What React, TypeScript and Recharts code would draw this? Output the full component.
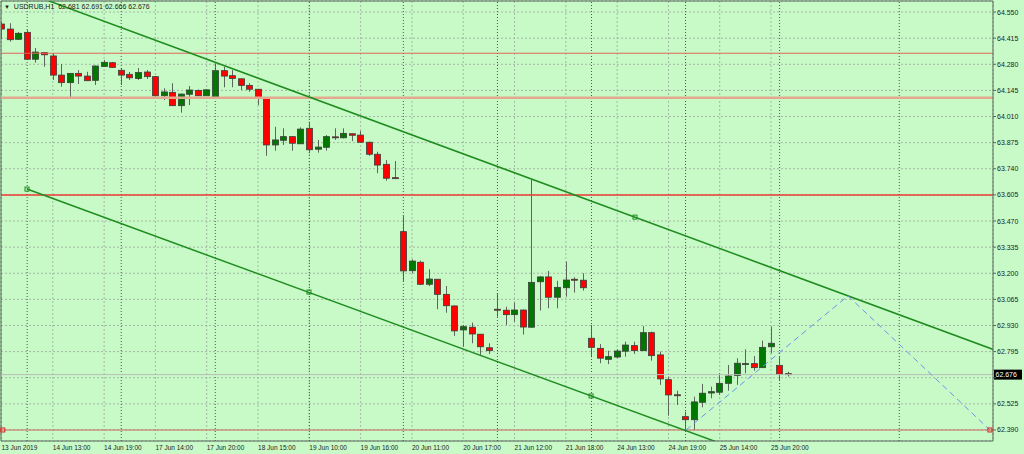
import React from "react";
import {
  ComposedChart,
  Bar,
  XAxis,
  YAxis,
  CartesianGrid,
  ReferenceLine,
  ReferenceDot,
} from "recharts";

// USDRUB H1 candles, oldest first
const openPrices = [
  64.488, 64.462, 64.409, 64.445, 64.306, 64.34, 64.323, 64.224, 64.185, 64.233,
  64.219, 64.197, 64.269, 64.288, 64.249, 64.228, 64.206, 64.24, 64.216, 64.117,
  64.135, 64.066, 64.125, 64.145, 64.117, 64.106, 64.247, 64.221, 64.205, 64.171,
  64.151, 64.107, 63.863, 63.887, 63.906, 63.869, 63.949, 63.841, 63.851, 63.905,
  63.9, 63.921, 63.914, 63.877, 63.815, 63.763, 63.694, 63.415, 63.213, 63.257,
  63.143, 63.169, 63.091, 63.031, 62.907, 62.921, 62.885, 62.815, 63.014, 63.009,
  62.986, 63.01, 62.921, 63.156, 63.181, 63.076, 63.125, 63.169, 63.164, 62.864,
  62.812, 62.755, 62.767, 62.797, 62.826, 62.8, 62.893, 62.778, 62.65, 62.572,
  62.459, 62.443, 62.533, 62.581, 62.585, 62.631, 62.671, 62.731, 62.733, 62.712,
  62.82, 62.724, 62.681,
];
const highPrices = [
  64.498, 64.492, 64.447, 64.457, 64.364, 64.343, 64.338, 64.281, 64.235, 64.25,
  64.241, 64.274, 64.302, 64.292, 64.261, 64.24, 64.261, 64.25, 64.219, 64.156,
  64.182, 64.129, 64.168, 64.15, 64.152, 64.285, 64.267, 64.25, 64.206, 64.182,
  64.152, 64.111, 63.957, 63.949, 63.907, 63.954, 63.98, 63.889, 63.914, 63.949,
  63.949, 63.922, 63.935, 63.88, 63.828, 63.785, 63.78, 63.496, 63.272, 63.265,
  63.22, 63.17, 63.134, 63.033, 62.933, 62.945, 62.886, 62.838, 63.096, 63.027,
  63.048, 63.013, 63.682, 63.186, 63.212, 63.161, 63.26, 63.179, 63.2, 62.933,
  62.834, 62.8, 62.807, 62.846, 62.846, 62.927, 62.898, 62.795, 62.666, 62.593,
  62.485, 62.562, 62.628, 62.614, 62.683, 62.726, 62.761, 62.807, 62.772, 62.852,
  62.924, 62.769, 62.691,
];
const lowPrices = [
  64.41, 64.397, 64.405, 64.302, 64.288, 64.267, 64.199, 64.164, 64.107, 64.178,
  64.193, 64.173, 64.267, 64.261, 64.173, 64.199, 64.199, 64.204, 64.113, 64.095,
  64.064, 64.03, 64.069, 64.116, 64.116, 64.106, 64.161, 64.161, 64.147, 64.138,
  64.069, 63.807, 63.833, 63.863, 63.833, 63.868, 63.823, 63.823, 63.834, 63.889,
  63.897, 63.883, 63.876, 63.807, 63.717, 63.678, 63.69, 63.16, 63.2, 63.139,
  63.134, 63.014, 62.996, 62.876, 62.82, 62.838, 62.778, 62.783, 62.975, 62.933,
  62.95, 62.883, 62.92, 63.007, 63.019, 63.019, 63.079, 63.1, 63.11, 62.766,
  62.735, 62.73, 62.761, 62.769, 62.783, 62.798, 62.748, 62.623, 62.464, 62.519,
  62.381, 62.39, 62.507, 62.554, 62.571, 62.593, 62.623, 62.683, 62.696, 62.71,
  62.786, 62.648, 62.666,
];
const closePrices = [
  64.462, 64.407, 64.44, 64.306, 64.343, 64.329, 64.224, 64.185, 64.233, 64.219,
  64.195, 64.271, 64.29, 64.264, 64.224, 64.21, 64.237, 64.216, 64.117, 64.137,
  64.066, 64.126, 64.147, 64.117, 64.148, 64.247, 64.219, 64.207, 64.171, 64.151,
  64.103, 63.863, 63.889, 63.906, 63.872, 63.945, 63.838, 63.852, 63.906, 63.903,
  63.923, 63.913, 63.877, 63.815, 63.759, 63.691, 63.692, 63.212, 63.263, 63.143,
  63.17, 63.091, 63.032, 62.902, 62.924, 62.886, 62.82, 62.8, 63.009, 62.986,
  63.01, 62.922, 63.153, 63.181, 63.076, 63.127, 63.165, 63.168, 63.125, 62.817,
  62.761, 62.769, 62.798, 62.829, 62.8, 62.893, 62.774, 62.654, 62.571, 62.571,
  62.443, 62.535, 62.58, 62.588, 62.631, 62.669, 62.735, 62.733, 62.712, 62.817,
  62.838, 62.678, 62.676,
];

const priceTicks = [
  64.55, 64.415, 64.28, 64.145, 64.01, 63.875, 63.74, 63.605, 63.47, 63.335,
  63.2, 63.065, 62.93, 62.795, 62.66, 62.525, 62.39,
];
const timeTicks = [0, 6, 12, 18, 24, 30, 36, 42, 48, 54, 60, 66, 72, 78, 84, 90];
const timeLabels = [
  "13 Jun 2019", "14 Jun 13:00", "14 Jun 19:00", "17 Jun 14:00", "17 Jun 20:00",
  "18 Jun 15:00", "19 Jun 10:00", "19 Jun 16:00", "20 Jun 11:00", "20 Jun 17:00",
  "21 Jun 12:00", "21 Jun 18:00", "24 Jun 13:00", "24 Jun 19:00", "25 Jun 14:00",
  "25 Jun 20:00",
];

// drawn objects
const separatorBars = [3, 14, 25, 36, 47, 58, 69, 80, 91, 105];
const thinRedLevel = 64.337;
const tanLevel = 64.107;
const redLevel = 63.605;
const bottomLevel = 62.39;
const bidPrice = 62.676;
const upperChannel = [
  [3, 64.649],
  [116, 62.806],
];
const lowerChannel = [
  [2.98, 63.635],
  [90, 62.225],
];
const channelAnchors = [
  [2.98, 63.635],
  [35.96, 63.103],
  [68.95, 62.566],
  [74.09, 63.49],
];
const bottomAnchors = [
  [0.15, 62.39],
  [115.6, 62.39],
];
const blueZigzag = [
  [80.06, 62.39],
  [99, 63.083],
  [115.6, 62.39],
];

const data = openPrices.map((o, i) => ({
  i,
  open: o,
  high: highPrices[i],
  low: lowPrices[i],
  close: closePrices[i],
  range: [lowPrices[i], highPrices[i]],
}));

const BG = "#c8fac8";
const FRAME = "#56675a";
const FONT = "'Liberation Sans', Arial, sans-serif";

const Candle = (props: any) => {
  const { x, y, width, height, payload } = props;
  if (!payload) return null;
  const { open, close, high, low } = payload;
  const top = Math.min(y, y + height);
  const h = Math.abs(height);
  const px = (v: number) => top + ((high - v) / (high - low)) * h;
  const cx = Math.round(x + width / 2) + 0.5;
  const up = close >= open;
  const bTop = px(Math.max(open, close));
  const bBot = px(Math.min(open, close));
  return (
    <g>
      <line x1={cx} x2={cx} y1={px(high)} y2={px(low)} stroke="#5c665c" strokeWidth={1} />
      <rect
        x={cx - 3}
        y={bTop}
        width={6}
        height={Math.max(bBot - bTop, 1)}
        fill={up ? "#007800" : "#ff0000"}
        stroke="#3a3f3a"
        strokeWidth={0.8}
      />
    </g>
  );
};

const TimeTick = (props: any) => {
  const { x, y, payload } = props;
  const idx = timeTicks.indexOf(payload.value);
  return (
    <text x={x} y={y + 9} fontSize={6.5} fontFamily={FONT} fill="#1c1c1c" textAnchor="start">
      {timeLabels[idx]}
    </text>
  );
};

// the price tag at the bid sits on top of the nearest tick label
const PriceTick = (props: any) => {
  const { x, y, payload } = props;
  if (Math.abs(payload.value - bidPrice) < 0.03) return null;
  return (
    <text x={x} y={y + 2.5} fontSize={7} fontFamily={FONT} fill="#1c1c1c" textAnchor="start">
      {Number(payload.value).toFixed(3)}
    </text>
  );
};

const BidTag = (props: any) => {
  const vb = props.viewBox || {};
  const x0 = vb.x + vb.width + 1;
  return (
    <g>
      <rect x={x0} y={vb.y - 5} width={28} height={10} fill="#000" />
      <text x={x0 + 1.5} y={vb.y + 2.5} fontSize={7} fontFamily={FONT} fill="#fff">
        {bidPrice.toFixed(3)}
      </text>
    </g>
  );
};

const square = (color: string) => (p: any) =>
  <rect x={p.cx - 2} y={p.cy - 2} width={4} height={4} fill="none" stroke={color} strokeWidth={1} />;

const App: React.FC = () => {
  return (
    <div style={{ position: "absolute", left: 0, top: 0, width: 1024, height: 454, background: BG }}>
      <ComposedChart
        width={1024}
        height={454}
        data={data}
        margin={{ top: 1, right: 0, bottom: 0, left: 1 }}
      >
        <CartesianGrid stroke="#a4b8a4" strokeDasharray="2 2" />
        <XAxis
          type="number"
          dataKey="i"
          domain={[-0.06, 115.96]}
          allowDataOverflow
          ticks={timeTicks}
          interval={0}
          tick={<TimeTick />}
          tickLine={false}
          tickSize={0}
          tickMargin={0}
          height={13}
          axisLine={{ stroke: FRAME }}
        />
        <YAxis
          orientation="right"
          domain={[62.333, 64.607]}
          allowDataOverflow
          ticks={priceTicks}
          interval={0}
          width={31}
          tickSize={3}
          tickMargin={1}
          tick={<PriceTick />}
          tickLine={{ stroke: FRAME }}
          axisLine={{ stroke: FRAME }}
        />
        {separatorBars.map((b) => (
          <ReferenceLine key={b} x={b} stroke="#4e564e" strokeDasharray="1 2" />
        ))}
        <ReferenceLine y={64.607} stroke={FRAME} />
        <ReferenceLine x={-0.06} stroke={FRAME} />
        <ReferenceLine y={bidPrice} stroke="#b9bdb9" label={<BidTag />} />
        <Bar dataKey="range" barSize={6} isAnimationActive={false} shape={(p: any) => <Candle {...p} />} />
        <ReferenceLine y={thinRedLevel} stroke="#e0675c" strokeWidth={1} />
        <ReferenceLine y={tanLevel} stroke="#e3a98e" strokeWidth={2.5} />
        <ReferenceLine y={redLevel} stroke="#ee3b35" strokeWidth={1.5} />
        <ReferenceLine y={bottomLevel} stroke="#d0695e" strokeWidth={1} />
        <ReferenceLine
          segment={[
            { x: upperChannel[0][0], y: upperChannel[0][1] },
            { x: upperChannel[1][0], y: upperChannel[1][1] },
          ]}
          stroke="#1f8c1f"
          strokeWidth={1.5}
          ifOverflow="hidden"
        />
        <ReferenceLine
          segment={[
            { x: lowerChannel[0][0], y: lowerChannel[0][1] },
            { x: lowerChannel[1][0], y: lowerChannel[1][1] },
          ]}
          stroke="#1f8c1f"
          strokeWidth={1.5}
          ifOverflow="hidden"
        />
        {[0, 1].map((k) => (
          <ReferenceLine
            key={"blue" + k}
            segment={[
              { x: blueZigzag[k][0], y: blueZigzag[k][1] },
              { x: blueZigzag[k + 1][0], y: blueZigzag[k + 1][1] },
            ]}
            stroke="#6a93ee"
            strokeWidth={1}
            strokeDasharray="6 4"
            ifOverflow="hidden"
          />
        ))}
        {channelAnchors.map(([ax, ay], k) => (
          <ReferenceDot key={"a" + k} x={ax} y={ay} r={2} shape={square("#1f8c1f")} />
        ))}
        {bottomAnchors.map(([ax, ay], k) => (
          <ReferenceDot key={"b" + k} x={ax} y={ay} r={2} shape={square("#e02020")} />
        ))}
      </ComposedChart>
      <div
        style={{
          position: "absolute",
          left: 4,
          top: 2,
          fontFamily: FONT,
          fontSize: 7,
          color: "#1c1c1c",
          whiteSpace: "pre",
          lineHeight: "9px",
        }}
      >
        <span style={{ fontSize: 6 }}>▼</span>
        {"  USDRUB,H1  62.681 62.691 62.666 62.676"}
      </div>
    </div>
  );
};

export default App;
